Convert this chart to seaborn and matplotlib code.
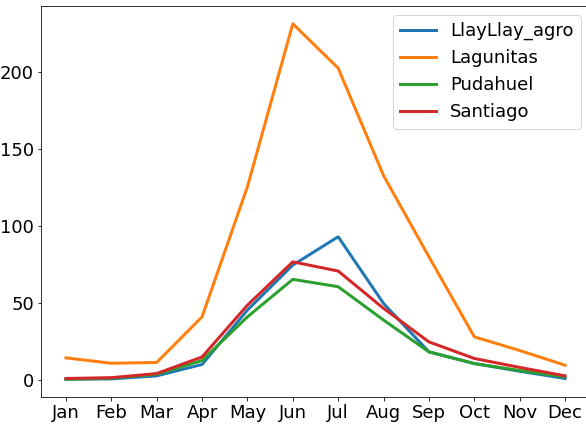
import pandas as pd
import matplotlib
matplotlib.use("Agg")
import matplotlib.pyplot as plt
import seaborn as sns

# Datos (valores mensuales por estacion)
meses = ['Jan', 'Feb', 'Mar', 'Apr', 'May', 'Jun',
         'Jul', 'Aug', 'Sep', 'Oct', 'Nov', 'Dec']
llayllay_agro = [0.3, 0.5, 2.5, 9.9, 45.3, 74.6, 93.0, 49.6, 18.1, 10.5, 5.5, 0.8]
lagunitas = [14.2, 10.7, 11.2, 40.9, 125.6, 231.6, 202.7, 132.8, 80.0, 27.9, 19.0, 9.4]
pudahuel = [0.3, 1.0, 3.5, 12.5, 40.9, 65.3, 60.5, 38.8, 18.1, 10.5, 6.0, 1.8]
santiago = [0.8, 1.3, 4.0, 14.8, 48.5, 76.7, 70.7, 46.4, 24.6, 13.8, 8.0, 2.5]

series = {
    'LlayLlay_agro': llayllay_agro,
    'Lagunitas': lagunitas,
    'Pudahuel': pudahuel,
    'Santiago': santiago,
}

df = pd.DataFrame(
    [{'Mes': m, 'Valor': v, 'Estacion': nombre}
     for nombre, valores in series.items()
     for m, v in zip(meses, valores)]
)

DPI = 72
fig = plt.figure(figsize=(586 / DPI, 425 / DPI), dpi=DPI)
# el grafico original viene recortado por la derecha
ax = fig.add_axes([41 / 586, 28 / 425, 549 / 586, 391 / 425])

sns.lineplot(data=df, x='Mes', y='Valor', hue='Estacion',
             palette='tab10', linewidth=3, sort=False, ax=ax)

ax.set_xlabel("")
ax.set_ylabel("")
ax.tick_params(labelsize=18)
handles, labels = ax.get_legend_handles_labels()
ax.legend(handles, labels, fontsize=18, loc='upper right')

fig.savefig("out.png", dpi=DPI)
